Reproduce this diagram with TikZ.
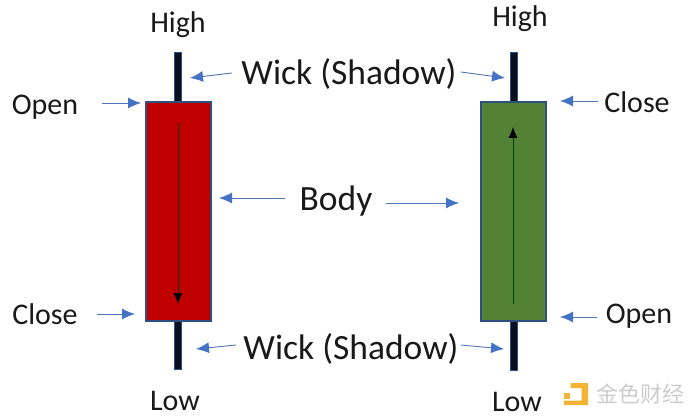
\documentclass[tikz,border=0pt]{standalone}
\usepackage{fontspec}
\setmainfont{Carlito}
\newfontfamily\cjkfont{Noto Sans CJK SC}
\usetikzlibrary{arrows.meta}
\definecolor{edgeblue}{HTML}{2F4F80}
\definecolor{arrowblue}{HTML}{4472C4}
\definecolor{redbody}{HTML}{C00000}
\definecolor{greenbody}{HTML}{548235}
\definecolor{wickfill}{HTML}{0A0F1E}
\definecolor{logoyellow}{HTML}{F5B335}
\tikzset{
  x=1pt,y=-1pt,
  lab/.style={inner sep=0pt,font=\fontsize{30}{32}\selectfont,text=black!90},
  biglab/.style={inner sep=0pt,font=\fontsize{35.5}{38}\selectfont,text=black!90},
  bodybox/.style={draw=edgeblue,line width=1.6pt,minimum width=65pt,inner sep=0pt,anchor=north west},
  wick/.style={draw=edgeblue,line width=1.2pt,fill=wickfill,minimum width=7.5pt,inner sep=0pt,anchor=north west},
  callout/.style={draw=arrowblue!80!gray,line width=0.9pt,-{Latex[length=13pt,width=11pt,color=arrowblue]},shorten >=0pt},
  trend/.style={draw=black!75!green,line width=0.8pt,-{Latex[length=11pt,width=9pt,color=black]}},
}
\begin{document}
\begin{tikzpicture}
\useasboundingbox (0,0) rectangle (700,419);
% wicks
\node[wick,minimum height=49pt] (lwt) at (173.5,52) {};
\node[wick,minimum height=49pt] (lwb) at (173.5,320) {};
\node[wick,minimum height=49pt] (rwt) at (509.5,52) {};
\node[wick,minimum height=50pt] (rwb) at (509.5,320) {};
% bodies
\node[bodybox,fill=redbody,minimum height=219pt] (lb) at (145,101) {};
\node[bodybox,fill=greenbody,minimum height=219pt] (rb) at (480,101) {};
% labels
\node[lab] (high1) at (178,25) {High};
\node[lab] (high2) at (520,19) {High};
\node[lab] (low1) at (175,400.5) {Low};
\node[lab] (low2) at (517,401.5) {Low};
\node[lab] (open1) at (45,107) {Open};
\node[lab] (close1) at (45,314.5) {Close};
\node[lab] (close2) at (637,102.5) {Close};
\node[lab] (open2) at (639,316) {Open};
\node[biglab] (w1) at (349,73.5) {Wick (Shadow)};
\node[biglab] (w2) at (351,348.5) {Wick (Shadow)};
\node[biglab] (body) at (336,201.5) {Body};
% internal arrows
\coordinate (a1) at (178,123);
\coordinate (a2) at (178,304);
\coordinate (b1) at (513,304);
\coordinate (b2) at (513,127);
\draw[trend] (a1) -- (a2);
\draw[trend] (b1) -- (b2);
% callouts
\coordinate (c1s) at (232,73); \coordinate (c1e) at (190,78);
\coordinate (c2s) at (461,72); \coordinate (c2e) at (505,78);
\coordinate (c3s) at (102,103); \coordinate (c3e) at (141,103);
\coordinate (c4s) at (97,314); \coordinate (c4e) at (135,314);
\coordinate (c5s) at (598,101); \coordinate (c5e) at (560,101);
\coordinate (c6s) at (597,317); \coordinate (c6e) at (560,317);
\coordinate (c7s) at (285,198); \coordinate (c7e) at (219,198);
\coordinate (c8s) at (386,203); \coordinate (c8e) at (459,203);
\coordinate (c9s) at (236,345); \coordinate (c9e) at (196,349);
\coordinate (c10s) at (461,345); \coordinate (c10e) at (504,349);
\foreach \n in {1,...,10} \draw[callout] (c\n s) -- (c\n e);
% watermark
\fill[logoyellow] (564,393) rectangle (570,399);
\fill[logoyellow] (570.5,383) -- (588,383) -- (588,405) -- (564,405) -- (564,400.5) -- (581.5,400.5) -- (581.5,388) -- (570.5,388) -- cycle;
\node[inner sep=0pt,anchor=west,text=black!20,font=\cjkfont\fontsize{22}{24}\selectfont] (wm) at (596,394) {金色财经};
\end{tikzpicture}
\end{document}
